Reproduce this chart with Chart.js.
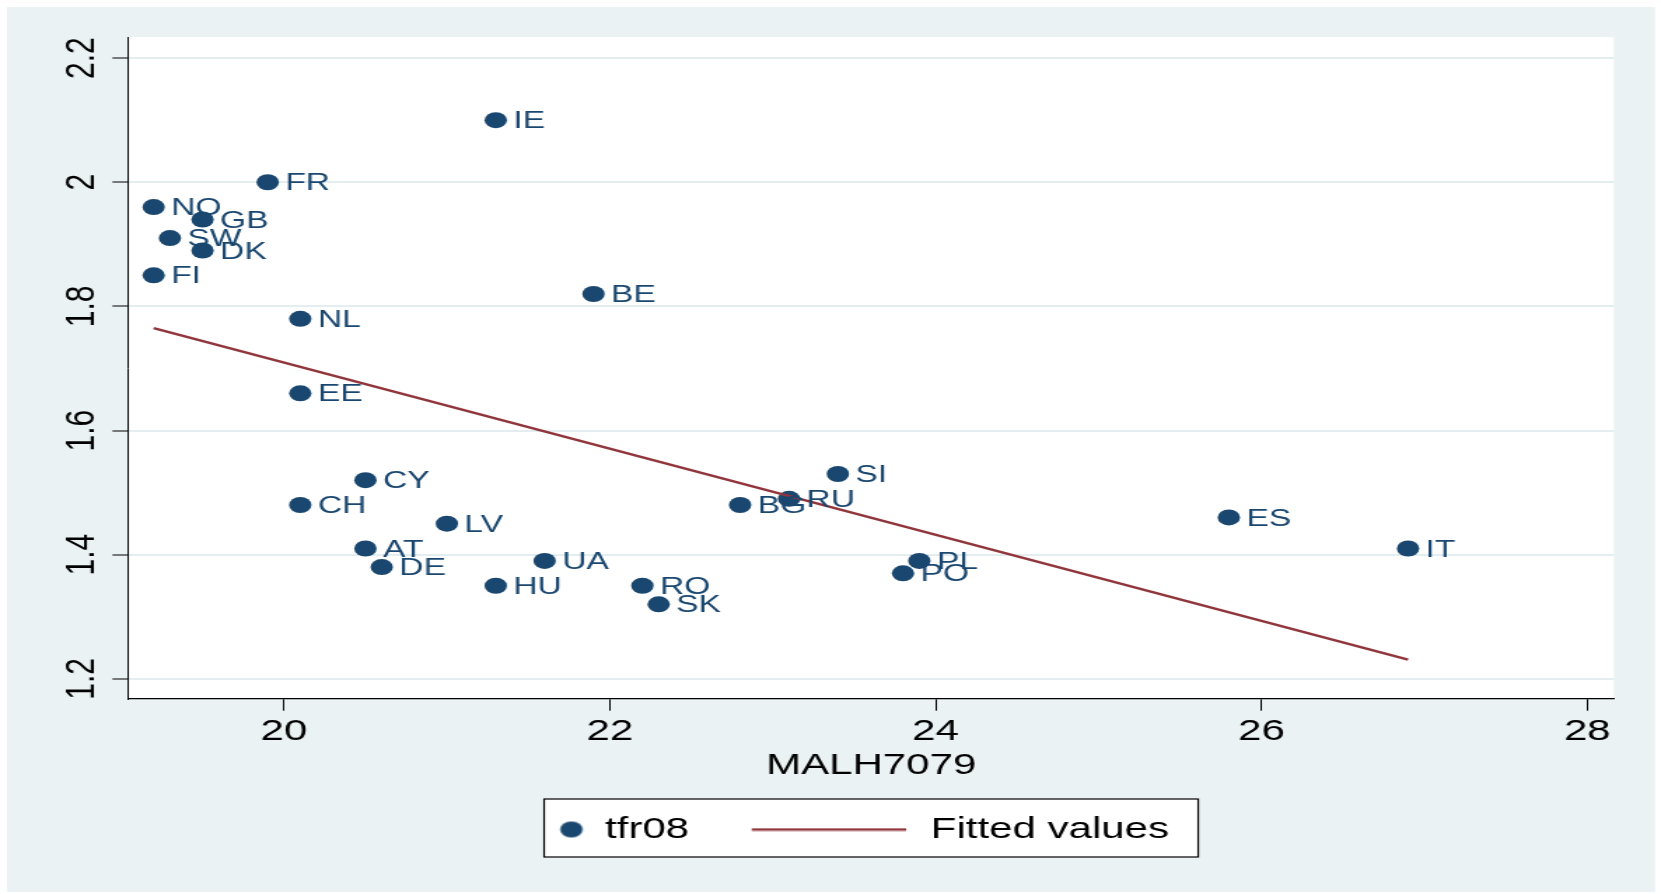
<!DOCTYPE html>
<html><head><meta charset="utf-8">
<script src="https://cdn.jsdelivr.net/npm/chart.js@4/dist/chart.umd.min.js"></script>
<style>
html,body{margin:0;padding:0;background:#fff;overflow:hidden;width:1661px;height:894px}
#wrap{position:absolute;left:0;top:0;width:1186px;height:894px;transform:scaleX(1.40051);transform-origin:0 0}
</style></head><body>
<div id="wrap"><canvas id="c" width="1186" height="894"></canvas></div>
<script>
// ---- data ----
const countries = ['IE','FR','NO','GB','SW','DK','FI','NL','BE','EE','CY','CH','LV','AT','DE','UA','HU','SI','RU','BG','PL','PO','RO','SK','ES','IT'];
const malh7079  = [21.3,19.9,19.2,19.5,19.3,19.5,19.2,20.1,21.9,20.1,20.5,20.1,21.0,20.5,20.6,21.6,21.3,23.4,23.1,22.8,23.9,23.8,22.2,22.3,25.8,26.9];
const tfr08     = [2.10,2.00,1.96,1.94,1.91,1.89,1.85,1.78,1.82,1.66,1.52,1.48,1.45,1.41,1.38,1.39,1.35,1.53,1.49,1.48,1.39,1.37,1.35,1.32,1.46,1.41];
const fittedX = [19.2, 26.9];
const fittedY = [1.765, 1.231];
const xTicks = [20, 22, 24, 26, 28];
const xTickLabels = ['20', '22', '24', '26', '28'];
const yTicks = [1.2, 1.4, 1.6, 1.8, 2.0, 2.2];
const yTickLabels = ['1.2', '1.4', '1.6', '1.8', '2', '2.2'];
const xTitle = 'MALH7079';
const seriesNames = ['tfr08', 'Fitted values'];

// ---- styles ----
const NAVY = '#1A476F', MAROON = '#90353B', BG = '#EAF2F3', GRID = '#E4EDF0';
const FAM = "'Liberation Sans', Arial, Helvetica, sans-serif";

const dotImg = document.createElement('canvas');
dotImg.width = 100; dotImg.height = 18;
(function(){ const c = dotImg.getContext('2d'); c.fillStyle = NAVY; c.beginPath(); c.arc(90.65, 9, 8, 0, Math.PI*2); c.fill(); })();
const lineImg = document.createElement('canvas');
lineImg.width = 130; lineImg.height = 4;
(function(){ const c = lineImg.getContext('2d'); c.strokeStyle = MAROON; c.lineWidth = 2.4; c.beginPath(); c.moveTo(1.75, 2); c.lineTo(112.05, 2); c.stroke(); })();

const bgPlugin = {
  id: 'bgPlugin',
  beforeDraw(chart) {
    const {ctx, chartArea: a} = chart;
    ctx.save();
    ctx.fillStyle = '#fff'; ctx.fillRect(0, 0, chart.width, chart.height);
    ctx.fillStyle = BG; ctx.fillRect(5, 7, 1176.7, 885);
    ctx.fillStyle = '#fff'; ctx.fillRect(a.left, a.top, a.right - a.left, a.bottom - a.top);
    const cx = (a.left + a.right) / 2, lt = chart.legend.top + 42.8;
    ctx.fillRect(cx - 233.5, lt, 467, 58);
    ctx.strokeStyle = '#000'; ctx.lineWidth = 1.2;
    ctx.strokeRect(cx - 233.5, lt, 467, 58);
    ctx.restore();
  }
};
const labelPlugin = {
  id: 'labelPlugin',
  afterDatasetsDraw(chart) {
    const meta = chart.getDatasetMeta(0);
    const ctx = chart.ctx;
    ctx.save();
    ctx.font = '24px ' + FAM;
    ctx.fillStyle = NAVY;
    ctx.textBaseline = 'middle';
    ctx.textAlign = 'left';
    meta.data.forEach((el, i) => { ctx.fillText(countries[i], el.x + 12.5, el.y + 1.5); });
    ctx.restore();
  }
};

new Chart(document.getElementById('c'), {
  type: 'scatter',
  data: {
    datasets: [
      { label: seriesNames[0], data: malh7079.map((x, i) => ({x, y: tfr08[i]})),
        backgroundColor: NAVY, borderWidth: 0, pointRadius: 8, pointHoverRadius: 8, pointStyle: 'circle', order: 2 },
      { label: seriesNames[1], type: 'line', data: fittedX.map((x, i) => ({x, y: fittedY[i]})),
        borderColor: MAROON, backgroundColor: MAROON, borderWidth: 2.4, pointRadius: 0, fill: false, tension: 0, order: 1 }
    ]
  },
  options: {
    responsive: false, animation: false, devicePixelRatio: 1, events: [],
    layout: { padding: { left: 0, right: 33.6, top: 37, bottom: 39.5 } },
    plugins: {
      tooltip: { enabled: false },
      legend: {
        display: true, position: 'bottom', fullSize: true, align: 'center',
        labels: {
          usePointStyle: true, pointStyleWidth: 99.3, padding: 58.3, color: '#000',
          font: { family: FAM, size: 30 },
          generateLabels(chart) {
            const items = Chart.defaults.plugins.legend.labels.generateLabels(chart);
            items.sort((a, b) => a.datasetIndex - b.datasetIndex);
            items.forEach(it => { it.pointStyle = it.datasetIndex === 0 ? dotImg : lineImg; });
            return items;
          }
        }
      }
    },
    scales: {
      x: {
        type: 'linear', position: 'bottom', min: 19.045, max: 28.164,
        afterBuildTicks: s => { s.ticks = xTicks.map(v => ({value: v})); },
        afterFit: s => { s.height = 57.5; },
        grid: { drawOnChartArea: false, drawTicks: true, tickLength: 12, tickColor: '#000', tickWidth: 1 },
        border: { display: true, color: '#000', width: 1.3 },
        ticks: { color: '#000', font: { family: FAM, size: 30 }, padding: 2.6, maxRotation: 0, autoSkip: false,
                 callback: (v, i) => xTickLabels[i] },
        title: { display: true, text: xTitle, color: '#000', font: { family: FAM, size: 30 }, padding: { top: 0, bottom: -27.1 } }
      },
      y: {
        type: 'linear', position: 'left', min: 1.168, max: 2.234,
        afterBuildTicks: s => { s.ticks = yTicks.map(v => ({value: v})); },
        afterFit: s => { s.width = 91.68; },
        grid: { color: GRID, lineWidth: 2, drawTicks: true, tickLength: 11.4, tickColor: '#000', tickWidth: 1 },
        border: { display: true, color: '#000', width: 1 },
        ticks: { color: '#000', font: { family: FAM, size: 30 }, padding: 1, minRotation: 90, maxRotation: 90,
                 crossAlign: 'center', autoSkip: false, callback: (v, i) => yTickLabels[i] }
      }
    }
  },
  plugins: [bgPlugin, labelPlugin]
});
</script>
</body></html>
